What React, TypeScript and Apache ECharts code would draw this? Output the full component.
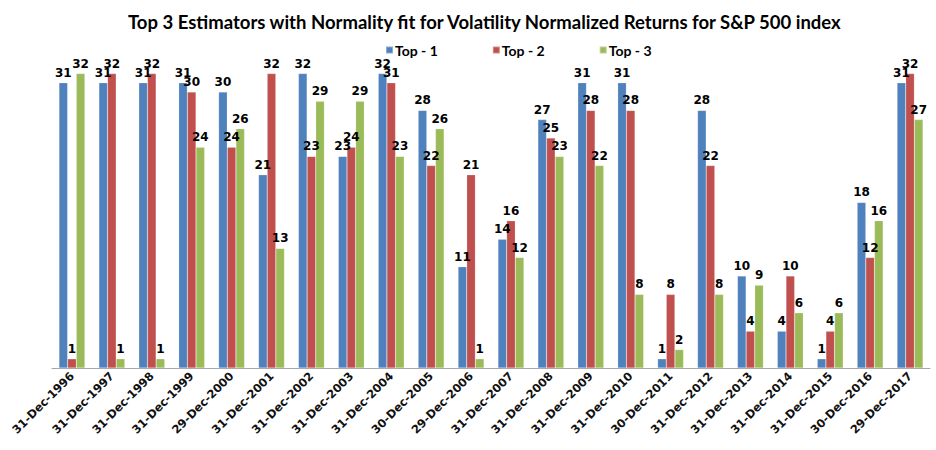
import React, { useEffect, useRef } from "react";
import * as echarts from "echarts";

const categories = [
  "31-Dec-1996", "31-Dec-1997", "31-Dec-1998", "31-Dec-1999", "29-Dec-2000",
  "31-Dec-2001", "31-Dec-2002", "31-Dec-2003", "31-Dec-2004", "30-Dec-2005",
  "29-Dec-2006", "31-Dec-2007", "31-Dec-2008", "31-Dec-2009", "31-Dec-2010",
  "30-Dec-2011", "31-Dec-2012", "31-Dec-2013", "31-Dec-2014", "31-Dec-2015",
  "30-Dec-2016", "29-Dec-2017",
];
const top1 = [31, 31, 31, 31, 30, 21, 32, 23, 32, 28, 11, 14, 27, 31, 31, 1, 28, 10, 4, 1, 18, 31];
const top2 = [1, 32, 32, 30, 24, 32, 23, 24, 31, 22, 21, 16, 25, 28, 28, 8, 22, 4, 10, 4, 12, 32];
const top3 = [32, 1, 1, 24, 26, 13, 29, 29, 23, 26, 1, 12, 23, 22, 8, 2, 8, 9, 6, 6, 16, 27];

const seriesNames = ["Top - 1", "Top - 2", "Top - 3"];
const colors = ["#4F81BD", "#C0504D", "#9BBB59"];

export default function App() {
  const ref = useRef<HTMLDivElement>(null);
  useEffect(() => {
    document.body.style.margin = "0";
    const chart = echarts.init(ref.current!, null, { renderer: "svg" });
    const dataSets = [top1, top2, top3];
    chart.setOption({
      animation: false,
      backgroundColor: "#ffffff",
      title: {
        text: "Top 3 Estimators with Normality fit for Volatility Normalized Returns for S&P 500 index",
        left: 123,
        top: 7,
        textStyle: {
          fontFamily: "Lato",
          fontWeight: "bold",
          fontSize: 18.5,
          color: "#000000",
        },
      },
      legend: {
        data: seriesNames,
        top: 38,
        left: 380,
        itemWidth: 7,
        itemHeight: 7,
        itemGap: 54,
        icon: "rect",
        textStyle: {
          fontFamily: "Lato",
          fontWeight: "bold",
          fontSize: 14,
          color: "#000000",
          padding: [0, 0, 0, -3],
        },
      },
      grid: { left: 52, right: 6, top: 46, height: 322 },
      xAxis: {
        type: "category",
        data: categories,
        axisLine: { lineStyle: { color: "#A6A6A6" } },
        axisTick: { lineStyle: { color: "#A6A6A6" }, length: 5 },
        axisLabel: {
          rotate: 45,
          interval: 0,
          fontFamily: "DejaVu Sans",
          fontWeight: "bold",
          fontSize: 11.5,
          color: "#111111",
          margin: 6,
        },
      },
      yAxis: {
        type: "value",
        min: 0,
        max: 35,
        show: false,
        splitLine: { show: false },
      },
      series: dataSets.map((d, i) => ({
        name: seriesNames[i],
        type: "bar",
        data: d,
        barGap: "0%",
        barCategoryGap: "35%",
        itemStyle: { color: colors[i], borderColor: "rgba(255,255,255,0.35)", borderWidth: 0.5 },
        label: {
          show: true,
          position: "top",
          distance: 4,
          fontFamily: "DejaVu Sans",
          fontWeight: "bold",
          fontSize: 12,
          color: "#000000",
        },
      })),
    });
    return () => chart.dispose();
  }, []);
  return <div ref={ref} style={{ width: 936, height: 450 }} />;
}
